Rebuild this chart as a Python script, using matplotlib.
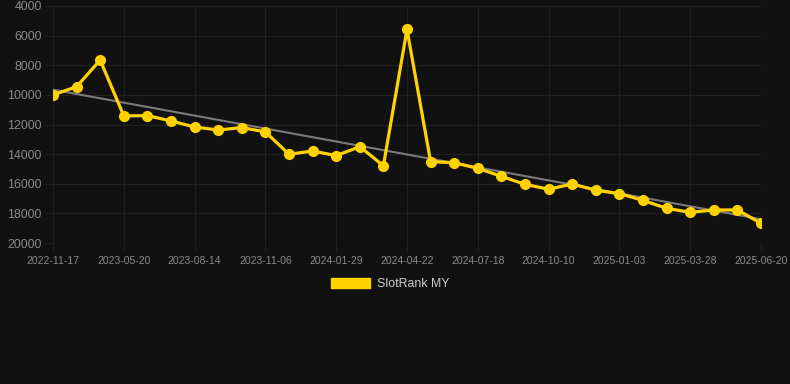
import numpy as np
import matplotlib
matplotlib.use("Agg")
import matplotlib.pyplot as plt
from matplotlib.patches import Patch

# rank values, one point per sample (31 samples)
ranks = [10000, 9450, 7650, 11420, 11400, 11760, 12170, 12370, 12210, 12500,
         14010, 13790, 14100, 13500, 14780, 5580, 14510, 14580, 14960, 15500,
         16040, 16370, 16015, 16440, 16670, 17120, 17660, 17930, 17770, 17770,
         18670]
tick_labels = ["2022-11-17", "2023-05-20", "2023-08-14", "2023-11-06",
               "2024-01-29", "2024-04-22", "2024-07-18", "2024-10-10",
               "2025-01-03", "2025-03-28", "2025-06-20"]
y_ticks = [4000, 6000, 8000, 10000, 12000, 14000, 16000, 18000, 20000]

plt.rcParams['font.family'] = ['Liberation Sans', 'DejaVu Sans']

bg = "#111111"
grid_c = "#202020"
text_c = "#8a8a8a"
yellow = "#ffd200"

x = np.arange(len(ranks))
coef = np.polyfit(x, ranks, 1)  # trend line

fig = plt.figure(figsize=(7.9, 3.84), dpi=100, facecolor=bg)
ax = fig.add_axes([53/790, (384-243)/384, (761-53)/790, (243-6)/384])
ax.set_facecolor(bg)

ax.plot(x, np.polyval(coef, x), color="#7a7a7a", lw=1.5, zorder=2)
ax.plot(x, ranks, color=yellow, lw=2.3, marker="o", ms=7, zorder=3)

ax.set_xlim(0, len(ranks) - 1)
ax.set_ylim(20000, 4000)
ax.set_yticks(y_ticks)
ax.set_xticks(x[::3])
ax.set_xticklabels(tick_labels)
ax.grid(True, color=grid_c, lw=0.8)
for s in ax.spines.values():
    s.set_visible(False)
ax.tick_params(axis="y", colors=text_c, labelsize=8.9, length=6, color=grid_c, pad=2)
ax.tick_params(axis="x", colors=text_c, labelsize=7.5, length=6, color=grid_c, pad=3)
for lab in ax.get_yticklabels() + ax.get_xticklabels():
    lab.set_color(text_c)

handle = Patch(facecolor=yellow, edgecolor=yellow)
fig.legend([handle], ["SlotRank MY"], loc="center", bbox_to_anchor=(390/790, 1 - 284/384),
           frameon=False, fontsize=8.9, labelcolor="#cccccc", handlelength=3.2,
           handleheight=0.9, handletextpad=0.5)

fig.savefig("out.png", dpi=100, facecolor=bg)
